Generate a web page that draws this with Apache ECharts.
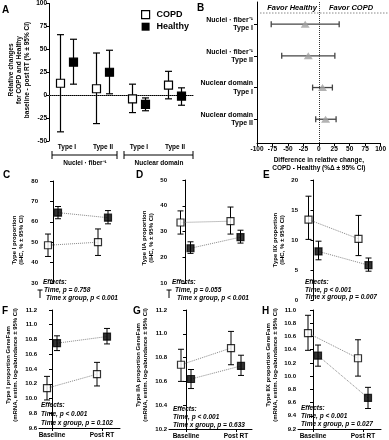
<!DOCTYPE html>
<html>
<head>
<meta charset="utf-8">
<script src="https://cdn.jsdelivr.net/npm/echarts@6/dist/echarts.min.js"></script>
<style>
  html, body { margin: 0; background: #fff; }
  #chart { width: 389px; height: 440px; }
</style>
</head>
<body>
<div id="chart"></div>
<script>
// ---- data: each point is [mean, low, high] ----
// panel A: relative change baseline - post RT
var aCategories = ['Type I', 'Type II', 'Type I', 'Type II'];
var aCopd = [[13, -40, 66], [7, -31, 46], [-4, -19, 12], [11, -4, 26]];
var aHealthy = [[36, 12, 61], [25, 1.5, 49], [-10, -17, -3], [-1, -11, 8]];
var aTicks = [-50, 100, 25];

// panel B: difference COPD - Healthy
var bRows = ['Nuclei · fiber⁻¹\nType I', 'Nuclei · fiber⁻¹\nType II', 'Nuclear domain\nType I', 'Nuclear domain\nType II'];
var bDiff = [[-22, -77, 33], [-17, -60, 26], [6, -10, 22], [11, -5, 28]];

// panels C-H: baseline vs post RT
var timepoints = ['Baseline', 'Post RT'];
var cCopd = [[48.5, 43, 54], [50, 43.5, 56.5]];
var cHealthy = [[64.5, 61.5, 67.5], [62, 59, 65.5]];
var dCopd = [[33.5, 29, 38], [34, 29, 39.5]];
var dHealthy = [[23.5, 21.5, 26], [27.8, 25.5, 30.5]];
var eCopd = [[13.4, 10.1, 17.3], [10.2, 7.4, 14.1]];
var eHealthy = [[8.1, 6.7, 9.8], [5.8, 4.8, 7.0]];
var fCopd = [[10.14, 9.98, 10.30], [10.33, 10.17, 10.49]];
var fHealthy = [[10.75, 10.65, 10.85], [10.84, 10.74, 10.95]];
var gCopd = [[10.74, 10.60, 10.87], [10.88, 10.74, 11.02]];
var gHealthy = [[10.62, 10.54, 10.70], [10.73, 10.65, 10.82]];
var hCopd = [[10.65, 10.39, 10.92], [10.27, 10.00, 10.55]];
var hHealthy = [[10.31, 10.15, 10.47], [9.67, 9.51, 9.83]];

var FONT = '"Liberation Sans", Arial, sans-serif';
var chart = echarts.init(document.getElementById('chart'));

function yAxisOf(gi, min, max, interval, digits) {
  return {
    type: 'value', gridIndex: gi, min: min, max: max, interval: interval,
    axisLine: { show: true, lineStyle: { color: '#000', width: 1 } },
    axisTick: { show: true, length: 3, lineStyle: { color: '#000' } },
    splitLine: { show: false },
    axisLabel: {
      fontSize: 6, fontWeight: 'bold', fontFamily: FONT, color: '#000', margin: 2,
      formatter: function (v) { return digits ? v.toFixed(digits) : String(v); }
    }
  };
}

function errBarV(half) {
  return function (params, api) {
    var top = api.coord([api.value(0), api.value(3)]);
    var bot = api.coord([api.value(0), api.value(2)]);
    var x = top[0];
    var st = { stroke: '#000', lineWidth: 1 };
    return { type: 'group', children: [
      { type: 'line', shape: { x1: x, y1: top[1], x2: x, y2: bot[1] }, style: st },
      { type: 'line', shape: { x1: x - half, y1: top[1], x2: x + half, y2: top[1] }, style: st },
      { type: 'line', shape: { x1: x - half, y1: bot[1], x2: x + half, y2: bot[1] }, style: st }
    ] };
  };
}

var grids = [], xAxes = [], yAxes = [], series = [];

// ---- panel A ----
grids.push({ left: 49, top: 3, width: 144, height: 138 });
xAxes.push({
  type: 'category', gridIndex: 0, data: aCategories,
  axisLine: { lineStyle: { color: '#000' } },
  axisTick: { alignWithLabel: true, length: 3, lineStyle: { color: '#000' } },
  axisLabel: { fontSize: 6.5, fontWeight: 'bold', fontFamily: FONT, color: '#000', margin: 3 }
});
var ya = yAxisOf(0, aTicks[0], aTicks[1], aTicks[2], 0);
ya.axisLabel.fontSize = 6.5;
yAxes.push(ya);

function aGroup(name, vals, offset, filled) {
  return {
    name: name, type: 'custom', xAxisIndex: 0, yAxisIndex: 0, z: 5,
    data: vals.map(function (d, i) { return [i, d[0], d[1], d[2]]; }),
    renderItem: function (params, api) {
      var c = api.coord([api.value(0), api.value(1)]);
      var top = api.coord([api.value(0), api.value(3)]);
      var bot = api.coord([api.value(0), api.value(2)]);
      var x = c[0] + offset;
      var st = { stroke: '#000', lineWidth: 1.2 };
      return { type: 'group', children: [
        { type: 'line', shape: { x1: x, y1: top[1], x2: x, y2: bot[1] }, style: st },
        { type: 'line', shape: { x1: x - 3.5, y1: top[1], x2: x + 3.5, y2: top[1] }, style: st },
        { type: 'line', shape: { x1: x - 3.5, y1: bot[1], x2: x + 3.5, y2: bot[1] }, style: st },
        { type: 'rect', shape: { x: x - 4, y: c[1] - 4, width: 8, height: 8 },
          style: { fill: filled ? '#000' : '#fff', stroke: '#000', lineWidth: 1.2 } }
      ] };
    },
    markLine: name === 'COPD' ? {
      silent: true, symbol: 'none', label: { show: false },
      lineStyle: { type: 'dotted', color: '#555', width: 1 },
      data: [{ yAxis: 0 }]
    } : undefined
  };
}
series.push(aGroup('COPD', aCopd, -6.5, false));
series.push(aGroup('Healthy', aHealthy, 6.5, true));

// ---- panel B ----
grids.push({ left: 257, top: 2, width: 125, height: 141 });
xAxes.push({
  type: 'value', gridIndex: 1, min: -100, max: 100, interval: 25,
  axisLine: { onZero: false, lineStyle: { color: '#000' } },
  axisTick: { length: 3, lineStyle: { color: '#000' } },
  splitLine: { show: false },
  axisLabel: { fontSize: 6.5, fontWeight: 'bold', fontFamily: FONT, color: '#000', margin: 3 },
  name: 'Difference in relative change,\nCOPD - Healthy (%Δ ± 95% CI)',
  nameLocation: 'middle', nameGap: 13,
  nameTextStyle: { fontSize: 6.5, fontWeight: 'bold', fontFamily: FONT, color: '#000', lineHeight: 8, verticalAlign: 'top' }
});
yAxes.push({
  type: 'value', gridIndex: 1, inverse: true, min: 0.3, max: 4.75,
  axisLine: { show: true, onZero: false, lineStyle: { color: '#000' } },
  axisTick: { show: true, length: 3, customValues: [1, 2, 3, 4], lineStyle: { color: '#000' } },
  splitLine: { show: false },
  axisLabel: {
    customValues: [1, 2, 3, 4], margin: 4,
    fontSize: 7, fontWeight: 'bold', fontFamily: FONT, color: '#000', lineHeight: 8.5,
    formatter: function (v) { return bRows[v - 1]; }
  }
});
series.push({
  type: 'custom', xAxisIndex: 1, yAxisIndex: 1, z: 4,
  data: bDiff.map(function (d, i) { return [d[0], i + 1, d[1], d[2]]; }),
  renderItem: function (params, api) {
    var l = api.coord([api.value(2), api.value(1)]);
    var r = api.coord([api.value(3), api.value(1)]);
    var y = l[1];
    var st = { stroke: '#444', lineWidth: 1.3 };
    return { type: 'group', children: [
      { type: 'line', shape: { x1: l[0], y1: y, x2: r[0], y2: y }, style: st },
      { type: 'line', shape: { x1: l[0], y1: y - 3, x2: l[0], y2: y + 3 }, style: st },
      { type: 'line', shape: { x1: r[0], y1: y - 3, x2: r[0], y2: y + 3 }, style: st }
    ] };
  },
  markLine: {
    silent: true, symbol: 'none', label: { show: false },
    lineStyle: { type: 'dotted', color: '#333', width: 1 },
    data: [{ xAxis: 0 }]
  }
});
series.push({
  type: 'scatter', xAxisIndex: 1, yAxisIndex: 1, z: 6,
  symbol: 'triangle', symbolSize: [9, 7],
  itemStyle: { color: '#a0a0a0' },
  data: bDiff.map(function (d, i) { return [d[0], i + 1]; })
});

// ---- panels C-H ----
var DODGE = 0.1;
var timeDefs = [
  { grid: { left: 40, top: 181, width: 81, height: 102 }, xmin: -0.26, y: [30, 80, 10, 0], copd: cCopd, healthy: cHealthy, xaxis: false },
  { grid: { left: 169, top: 180, width: 82, height: 103 }, xmin: -0.33, y: [10, 50, 10, 0], copd: dCopd, healthy: dHealthy, xaxis: false },
  { grid: { left: 300, top: 180, width: 82, height: 120 }, xmin: -0.27, y: [0, 20, 5, 0], copd: eCopd, healthy: eHealthy, xaxis: false },
  { grid: { left: 39, top: 310, width: 81, height: 118 }, xmin: -0.26, y: [9.6, 11.2, 0.2, 1], copd: fCopd, healthy: fHealthy, xaxis: true },
  { grid: { left: 169, top: 310, width: 83, height: 120 }, xmin: -0.34, y: [10.2, 11.2, 0.2, 1], copd: gCopd, healthy: gHealthy, xaxis: true },
  { grid: { left: 298, top: 310, width: 83, height: 120 }, xmin: -0.30, y: [9.2, 11.0, 0.2, 1], copd: hCopd, healthy: hHealthy, xaxis: true }
];

timeDefs.forEach(function (p, k) {
  var gi = k + 2;
  grids.push(p.grid);
  xAxes.push({
    type: 'value', gridIndex: gi, show: p.xaxis,
    min: p.xmin, max: p.xmin + p.grid.width / 50,
    axisLine: { onZero: false, lineStyle: { color: '#000' } },
    axisTick: { length: 3, customValues: [0, 1], lineStyle: { color: '#000' } },
    splitLine: { show: false },
    axisLabel: {
      customValues: [0, 1], margin: 4,
      fontSize: 6.5, fontWeight: 'bold', fontFamily: FONT, color: '#000',
      formatter: function (v) { return timepoints[v]; }
    }
  });
  yAxes.push(yAxisOf(gi, p.y[0], p.y[1], p.y[2], p.y[3]));
  [[p.copd, -DODGE, false], [p.healthy, DODGE, true]].forEach(function (g) {
    var vals = g[0], off = g[1], filled = g[2];
    series.push({
      type: 'line', xAxisIndex: gi, yAxisIndex: gi, z: 2, symbol: 'none', silent: true,
      lineStyle: { color: '#888', width: 1, type: 'dotted' },
      data: vals.map(function (d, i) { return [i + off, d[0]]; })
    });
    series.push({
      type: 'custom', xAxisIndex: gi, yAxisIndex: gi, z: 3,
      data: vals.map(function (d, i) { return [i + off, d[0], d[1], d[2]]; }),
      renderItem: errBarV(3)
    });
    series.push({
      type: 'scatter', xAxisIndex: gi, yAxisIndex: gi, z: 6,
      symbol: 'rect', symbolSize: 7,
      itemStyle: { color: filled ? '#000' : '#fff', borderColor: '#000', borderWidth: 1.2 },
      data: vals.map(function (d, i) { return [i + off, d[0]]; })
    });
  });
});

// ---- text and decorations ----
function txt(x, y, s, size, opts) {
  opts = opts || {};
  return {
    type: 'text', x: x, y: y, rotation: opts.rot || 0, silent: true,
    style: {
      text: s, fill: '#000', fontSize: size, fontWeight: 'bold', fontFamily: FONT,
      fontStyle: opts.italic ? 'italic' : 'normal',
      align: opts.align || 'left', verticalAlign: opts.va || 'middle', lineHeight: opts.lh || size + 1.5
    }
  };
}
function vtitle(x, y, s, size) { return txt(x, y, s, size, { rot: Math.PI / 2, align: 'center', lh: size + 1.5 }); }
function seg(x1, y1, x2, y2, st) {
  return { type: 'line', silent: true, shape: { x1: x1, y1: y1, x2: x2, y2: y2 }, style: st || { stroke: '#000', lineWidth: 1 } };
}

var graphics = [
  txt(2, 10, 'A', 10), txt(197, 8, 'B', 10),
  txt(3, 175, 'C', 10), txt(136, 175, 'D', 10), txt(263, 175, 'E', 10),
  txt(2, 311, 'F', 10), txt(133, 311, 'G', 10), txt(262, 311, 'H', 10),
  vtitle(19, 70, 'Relative changes\nfor COPD and Healthy\nbaseline - post RT (% ± 95% CI)', 6.5),
  vtitle(18, 240, 'Type I proportion\n(IHC, % ± 95% CI)', 6),
  vtitle(148, 238, 'Type IIA proportion\n(IHC, % ± 95% CI)', 6),
  vtitle(279, 240, 'Type IIX proportion\n(IHC, % ± 95% CI)', 6),
  vtitle(12, 365, 'Type I proportion GeneFam\n(mRNA, estim. log-abundance ± 95% CI)', 6),
  vtitle(142, 365, 'Type IIA proportion GeneFam\n(mRNA, estim. log-abundance ± 95% CI)', 6),
  vtitle(272, 365, 'Type IIX proportion GeneFam\n(mRNA, estim. log-abundance ± 95% CI)', 6),
  // A group brackets
  seg(52, 155, 117, 155), seg(52, 151, 52, 159), seg(117, 151, 117, 159),
  seg(124, 155, 193, 155), seg(124, 151, 124, 159), seg(193, 151, 193, 159),
  txt(85, 163, 'Nuclei · fiber⁻¹', 6.5, { align: 'center' }),
  txt(159, 163, 'Nuclear domain', 6.5, { align: 'center' }),
  // B header
  seg(260, 13, 388, 13, { stroke: '#888', lineWidth: 1, lineDash: [1.5, 1.5] }),
  txt(292, 8, 'Favor Healthy', 7.5, { align: 'center', italic: true }),
  txt(351, 8, 'Favor COPD', 7.5, { align: 'center', italic: true }),
  // broken axis stubs in C and D
  seg(40, 290, 40, 298), seg(37.5, 290, 42.5, 290),
  seg(169, 290, 169, 298), seg(166.5, 290, 171.5, 290),
  // effects
  txt(43, 282, 'Effects:', 6.5, { italic: true }),
  txt(44, 290, 'Time, p = 0.758', 6.5, { italic: true }),
  txt(46, 298, 'Time x group, p < 0.001', 6.5, { italic: true }),
  txt(172, 282, 'Effects:', 6.5, { italic: true }),
  txt(175, 290, 'Time, p = 0.055', 6.5, { italic: true }),
  txt(177, 298, 'Time x group, p < 0.001', 6.5, { italic: true }),
  txt(305, 282, 'Effects:', 6.5, { italic: true }),
  txt(305, 290, 'Time, p < 0.001', 6.5, { italic: true }),
  txt(305, 297, 'Time x group, p = 0.007', 6.5, { italic: true }),
  txt(41, 405, 'Effects:', 6.5, { italic: true }),
  txt(41, 414, 'Time, p < 0.001', 6.5, { italic: true }),
  txt(41, 423, 'Time x group, p = 0.102', 6.5, { italic: true }),
  txt(173, 409, 'Effects:', 6.5, { italic: true }),
  txt(173, 417, 'Time, p < 0.001', 6.5, { italic: true }),
  txt(173, 425, 'Time x group, p = 0.633', 6.5, { italic: true }),
  txt(301, 408, 'Effects:', 6.5, { italic: true }),
  txt(301, 416, 'Time, p < 0.001', 6.5, { italic: true }),
  txt(301, 424, 'Time x group, p = 0.027', 6.5, { italic: true })
];

var option = {
  animation: false,
  backgroundColor: '#fff',
  grid: grids,
  xAxis: xAxes,
  yAxis: yAxes,
  legend: {
    left: 136, top: 5, orient: 'vertical', itemGap: 3,
    itemWidth: 8, itemHeight: 8, selectedMode: false,
    textStyle: { fontSize: 9, fontWeight: 'bold', fontFamily: FONT, color: '#000', padding: [0, 0, 0, 2] },
    data: [
      { name: 'COPD', icon: 'rect', itemStyle: { color: '#fff', borderColor: '#000', borderWidth: 1.2 } },
      { name: 'Healthy', icon: 'rect', itemStyle: { color: '#000' } }
    ]
  },
  graphic: graphics,
  series: series
};
chart.setOption(option);
window.addEventListener('resize', function () { chart.resize(); });
</script>
</body>
</html>
